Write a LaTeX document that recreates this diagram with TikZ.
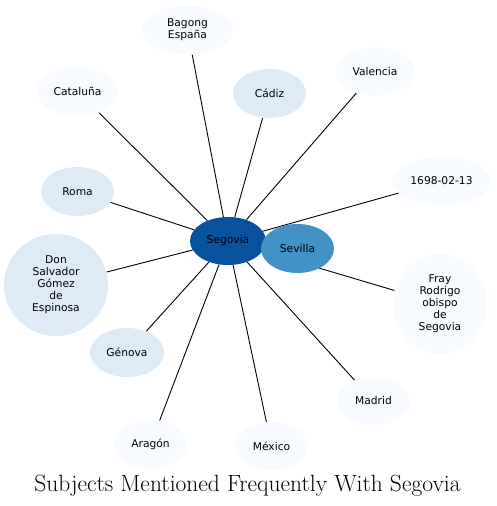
\documentclass[tikz,border=0pt]{standalone}
\usepackage{fontspec}
\newfontfamily\nodefont{DejaVu Sans}
\usetikzlibrary{shapes.geometric}
\pgfdeclarelayer{background}
\pgfsetlayers{background,main}
\definecolor{cdark}{HTML}{08519C}
\definecolor{cmid}{HTML}{4292C6}
\definecolor{clight}{HTML}{DEEBF7}
\definecolor{cpale}{HTML}{F7FBFF}
\begin{document}
\begin{tikzpicture}[x=1pt,y=-1pt,
  topic/.style={ellipse,inner sep=0pt,align=center,
    font=\nodefont\fontsize{10.7}{12}\selectfont},
  pale/.style={topic,fill=cpale},
  light/.style={topic,fill=clight},
  link/.style={draw=black,line width=0.9pt}]
\useasboundingbox (0,0) rectangle (496,506);
\node[topic,fill=cdark,minimum width=76pt,minimum height=48pt] (seg) at (228,241) {Segovia};
\node[topic,fill=cmid,minimum width=73pt,minimum height=49pt] (sev) at (297.5,248.5) {Sevilla};
\node[pale,minimum width=91pt,minimum height=49pt] (bag) at (187.5,30) {Bagong\\España};
\node[pale,minimum width=81pt,minimum height=49pt] (cat) at (77.5,91.5) {Cataluña};
\node[light,minimum width=73pt,minimum height=49pt] (cad) at (269.5,93.5) {Cádiz};
\node[pale,minimum width=78pt,minimum height=49pt] (val) at (375,71.5) {Valencia};
\node[pale,minimum width=99pt,minimum height=48pt] (dat) at (441.5,181) {1698-02-13};
\node[light,minimum width=73pt,minimum height=49pt] (rom) at (77.5,191.5) {Roma};
\node[light,minimum width=104pt,minimum height=102pt] (don) at (56,285) {Don\\Salvador\\Gómez\\de\\Espinosa};
\node[light,minimum width=74pt,minimum height=49pt] (gen) at (127,352.5) {Génova};
\node[pale,minimum width=73pt,minimum height=49pt] (ara) at (150.5,444.5) {Aragón};
\node[pale,minimum width=73pt,minimum height=48pt] (mex) at (271.5,446) {México};
\node[pale,minimum width=73pt,minimum height=48pt] (mad) at (373.5,401) {Madrid};
\node[pale,minimum width=94pt,minimum height=100pt] (fra) at (440,304) {Fray\\Rodrigo\\obispo\\de\\Segovia};
\node[anchor=base,inner sep=0pt] (title) at (247.5,491.5) {\fontsize{23.5}{28}\selectfont Subjects Mentioned Frequently With Segovia};
\begin{pgfonlayer}{background}
\foreach \t in {sev,bag,cat,cad,val,dat,rom,don,gen,ara,mex,mad,fra}
  \draw[link] (seg) -- (\t);
\end{pgfonlayer}
\end{tikzpicture}
\end{document}
